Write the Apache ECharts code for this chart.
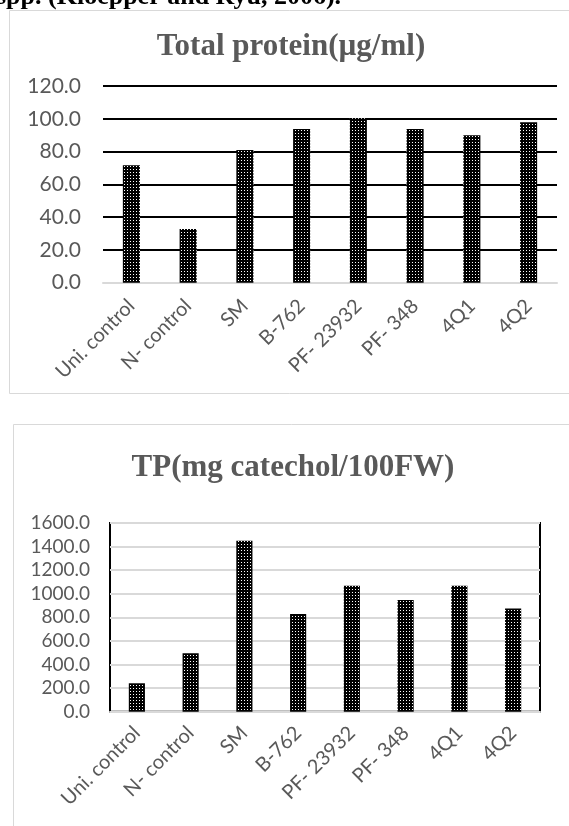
<!DOCTYPE html>
<html>
<head>
<meta charset="utf-8">
<script src="https://cdn.jsdelivr.net/npm/echarts@6/dist/echarts.min.js"></script>
<style>
html,body{margin:0;padding:0;background:#fff;}
#c{width:569px;height:826px;}
</style>
</head>
<body>
<div id="c"></div>
<script>
const categories = ['Uni. control', 'N- control', 'SM', 'B-762', 'PF- 23932', 'PF- 348', '4Q1', '4Q2'];
const proteinValues = [71.6, 32.8, 81.0, 93.8, 100.3, 93.8, 89.9, 97.9];
const tpValues = [241, 495, 1449, 828, 1068, 947, 1068, 876];
const proteinTitle = 'Total protein(µg/ml)';
const tpTitle = 'TP(mg catechol/100FW';
const headerText = 'spp. (Kloepper and Ryu, 2006).';

function makePattern() {
  const c = document.createElement('canvas');
  c.width = 3; c.height = 3;
  const ctx = c.getContext('2d');
  ctx.fillStyle = '#000';
  ctx.fillRect(0, 0, 3, 3);
  ctx.fillStyle = '#fff';
  ctx.fillRect(1, 1, 1, 1);
  return c;
}
const pattern = { image: makePattern(), repeat: 'repeat' };

const labelFont = 'Lato, "Open Sans", sans-serif';
const serif = '"Liberation Serif", "Times New Roman", serif';
const chart = echarts.init(document.getElementById('c'), null, { renderer: 'canvas' });

chart.setOption({
  animation: false,
  backgroundColor: '#fff',
  graphic: [
    { type: 'rect', shape: { x: 9.5, y: 10.5, width: 620, height: 383 }, style: { fill: 'none', stroke: '#d9d9d9', lineWidth: 1 }, z: -1 },
    { type: 'rect', shape: { x: 13.5, y: 424.5, width: 620, height: 500 }, style: { fill: 'none', stroke: '#d9d9d9', lineWidth: 1 }, z: -1 },
    { type: 'text', x: -4, y: 10, style: { text: headerText, font: 'bold 26px ' + serif, fill: '#000', textVerticalAlign: 'bottom' } },
    { type: 'text', x: 291, y: 47, style: { text: proteinTitle, font: 'bold 31px ' + serif, fill: '#595959', textAlign: 'center', textVerticalAlign: 'middle' } },
    { type: 'text', x: 293, y: 468, style: { text: tpTitle + ')', font: 'bold 31px ' + serif, fill: '#595959', textAlign: 'center', textVerticalAlign: 'middle' } }
  ],
  grid: [
    { left: 103, top: 86, width: 454, height: 196.7, containLabel: false },
    { left: 110, top: 523, width: 430, height: 188.7, containLabel: false, show: true, borderColor: '#000', borderWidth: 2, backgroundColor: 'transparent' }
  ],
  xAxis: [
    {
      type: 'category', gridIndex: 0, data: categories,
      axisLine: { lineStyle: { color: '#d9d9d9', width: 2 } },
      axisTick: { show: false },
      axisLabel: { rotate: 45, interval: 0, margin: 20, color: '#595959', fontSize: 20, fontFamily: labelFont }
    },
    {
      type: 'category', gridIndex: 1, data: categories,
      axisLine: { lineStyle: { color: '#d9d9d9', width: 2 } },
      axisTick: { show: false },
      axisLabel: { rotate: 45, interval: 0, margin: 18, color: '#595959', fontSize: 20, fontFamily: labelFont }
    }
  ],
  yAxis: [
    {
      type: 'value', gridIndex: 0, min: 0, max: 120, interval: 20,
      axisLine: { show: false }, axisTick: { show: false },
      splitLine: { lineStyle: { color: '#000', width: 2 } },
      axisLabel: { color: '#595959', fontSize: 21, fontFamily: labelFont, margin: 22, formatter: v => v.toFixed(1) }
    },
    {
      type: 'value', gridIndex: 1, min: 0, max: 1600, interval: 200,
      axisLine: { show: false }, axisTick: { show: false },
      splitLine: { lineStyle: { color: '#d9d9d9', width: 2 } },
      axisLabel: { color: '#595959', fontSize: 19, fontFamily: labelFont, margin: 20, formatter: v => v.toFixed(1) }
    }
  ],
  series: [
    { type: 'bar', xAxisIndex: 0, yAxisIndex: 0, data: proteinValues, barWidth: '30%', itemStyle: { color: pattern }, z: 3 },
    { type: 'bar', xAxisIndex: 1, yAxisIndex: 1, data: tpValues, barWidth: '30%', itemStyle: { color: pattern }, z: 3 }
  ]
});
</script>
</body>
</html>
